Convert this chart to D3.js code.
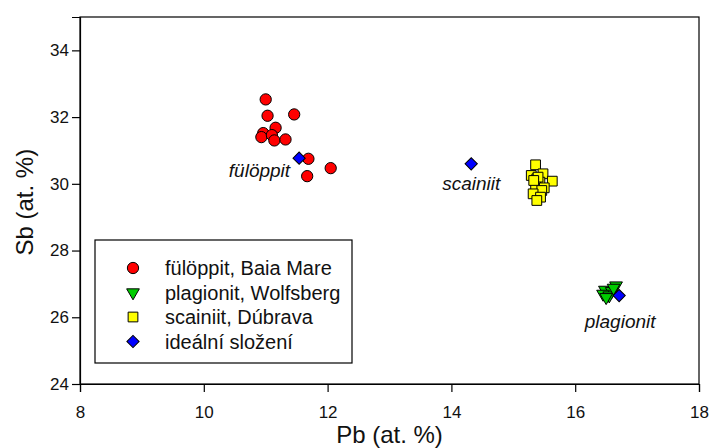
<!DOCTYPE html>
<html>
<head>
<meta charset="utf-8">
<script src="https://cdn.jsdelivr.net/npm/d3@7"></script>
<style>
body { margin: 0; background: #fff; }
text { font-family: "Liberation Sans", Arial, sans-serif; }
</style>
</head>
<body>
<div id="container"></div>
<script>
var width = 712,
    height = 448,
    margin = { left: 80, top: 17, right: 13, bottom: 64 },
    g_width = width - margin.left - margin.right,
    g_height = height - margin.top - margin.bottom;

// data: [Pb, Sb] in at. %
var fuloppit = [[11.00, 32.53], [11.03, 32.04], [11.46, 32.08], [11.16, 31.68], [10.96, 31.52],
    [10.93, 31.40], [11.10, 31.46], [11.14, 31.30], [11.32, 31.33], [11.69, 30.75],
    [12.05, 30.47], [11.67, 30.23]];
var plagionit = [[16.66, 26.95], [16.48, 26.82], [16.59, 26.78], [16.45, 26.70], [16.55, 26.65],
    [16.50, 26.60], [16.62, 26.88]];
var scainiit = [[15.36, 30.57], [15.29, 30.25], [15.48, 30.30], [15.38, 30.15], [15.43, 30.05],
    [15.63, 30.08], [15.36, 29.95], [15.50, 29.88], [15.46, 29.80], [15.32, 29.70],
    [15.44, 29.60], [15.38, 29.50], [15.40, 30.20], [15.33, 30.10]];
var ideal = [[11.54, 30.77], [14.32, 30.60], [16.71, 26.65]];
var idealNames = ['fülöppit', 'scainiit', 'plagionit'];
var legendLabels = ['fülöppit, Baia Mare', 'plagionit, Wolfsberg', 'scainiit, Dúbrava', 'ideální složení'];
var x_ticks = [8, 10, 12, 14, 16, 18];
var y_ticks = [24, 26, 28, 30, 32, 34];

var svg = d3.select('#container')
    .append('svg')
    .attr('width', width)
    .attr('height', height);
var g = svg.append('g')
    .attr('transform', 'translate(' + margin.left + ',' + margin.top + ')');

var scale_x = d3.scaleLinear().domain([8, 18]).range([0, g_width]);
var scale_y = d3.scaleLinear().domain([24, 35]).range([g_height, 0]);

// frame
g.append('rect')
    .attr('width', g_width).attr('height', g_height)
    .attr('fill', 'none').attr('stroke', '#000').attr('stroke-width', 1.2);

var x_axis = d3.axisBottom(scale_x).tickValues(x_ticks).tickSize(8).tickPadding(14);
var y_axis = d3.axisLeft(scale_y).tickValues(y_ticks).tickSize(8).tickPadding(3);
var gx = g.append('g').attr('transform', 'translate(0,' + g_height + ')').call(x_axis);
var gy = g.append('g').call(y_axis);
[gx, gy].forEach(function (a) {
    a.select('.domain').attr('stroke-width', 1.2);
    a.selectAll('.tick line').attr('stroke-width', 1.2);
    a.selectAll('.tick text').attr('font-size', 17).attr('fill', '#111')
        .attr('font-family', '"Liberation Sans", Arial, sans-serif');
});

g.append('text')
    .text('Pb (at. %)')
    .attr('x', g_width / 2).attr('y', g_height + 59)
    .attr('text-anchor', 'middle').attr('font-size', 24).attr('fill', '#111');
g.append('text')
    .text('Sb (at. %)')
    .attr('transform', 'translate(-47,' + scale_y(29.45) + ') rotate(-90)')
    .attr('text-anchor', 'middle').attr('font-size', 24).attr('fill', '#111');

// symbols
var sym = {
    circle: d3.symbol().type(d3.symbolCircle).size(100),
    tri: d3.symbol().type(d3.symbolTriangle).size(70),
    square: d3.symbol().type(d3.symbolSquare).size(95),
    diamond: d3.symbol().type(d3.symbolSquare).size(75)
};
var series = [
    { data: fuloppit, shape: 'circle', fill: '#ff0000', rot: 0 },
    { data: plagionit, shape: 'tri', fill: '#00cc00', rot: 180 },
    { data: scainiit, shape: 'square', fill: '#ffff00', rot: 0 },
    { data: ideal, shape: 'diamond', fill: '#0000ff', rot: 45 }
];

series.forEach(function (s) {
    g.append('g').selectAll('path')
        .data(s.data)
        .enter().append('path')
        .attr('d', sym[s.shape])
        .attr('transform', function (d) {
            return 'translate(' + scale_x(d[0]) + ',' + scale_y(d[1]) + ') rotate(' + s.rot + ')';
        })
        .attr('fill', s.fill).attr('stroke', '#000').attr('stroke-width', 1);
});

// mineral labels
var labelPos = [
    { dx: -9, dy: 19, anchor: 'end' },
    { dx: 0, dy: 26, anchor: 'middle' },
    { dx: 1, dy: 32, anchor: 'middle' }
];
g.selectAll('.mlabel')
    .data(ideal)
    .enter().append('text')
    .attr('class', 'mlabel')
    .text(function (d, i) { return idealNames[i]; })
    .attr('x', function (d, i) { return scale_x(d[0]) + labelPos[i].dx; })
    .attr('y', function (d, i) { return scale_y(d[1]) + labelPos[i].dy; })
    .attr('text-anchor', function (d, i) { return labelPos[i].anchor; })
    .attr('font-size', 19).attr('font-style', 'italic').attr('fill', '#111');

// legend
var legend = svg.append('g').attr('transform', 'translate(95,240)');
legend.append('rect')
    .attr('width', 257).attr('height', 123)
    .attr('fill', '#fff').attr('stroke', '#000').attr('stroke-width', 1.2);
var items = legend.selectAll('.item')
    .data(series)
    .enter().append('g')
    .attr('transform', function (d, i) { return 'translate(0,' + (28 + i * 24.5) + ')'; });
items.append('path')
    .attr('d', function (d) { return sym[d.shape](); })
    .attr('transform', function (d) { return 'translate(38,0) rotate(' + d.rot + ')'; })
    .attr('fill', function (d) { return d.fill; })
    .attr('stroke', '#000').attr('stroke-width', 1);
items.append('text')
    .text(function (d, i) { return legendLabels[i]; })
    .attr('x', 70).attr('y', 7)
    .attr('font-size', 20).attr('fill', '#111');
</script>
</body>
</html>
